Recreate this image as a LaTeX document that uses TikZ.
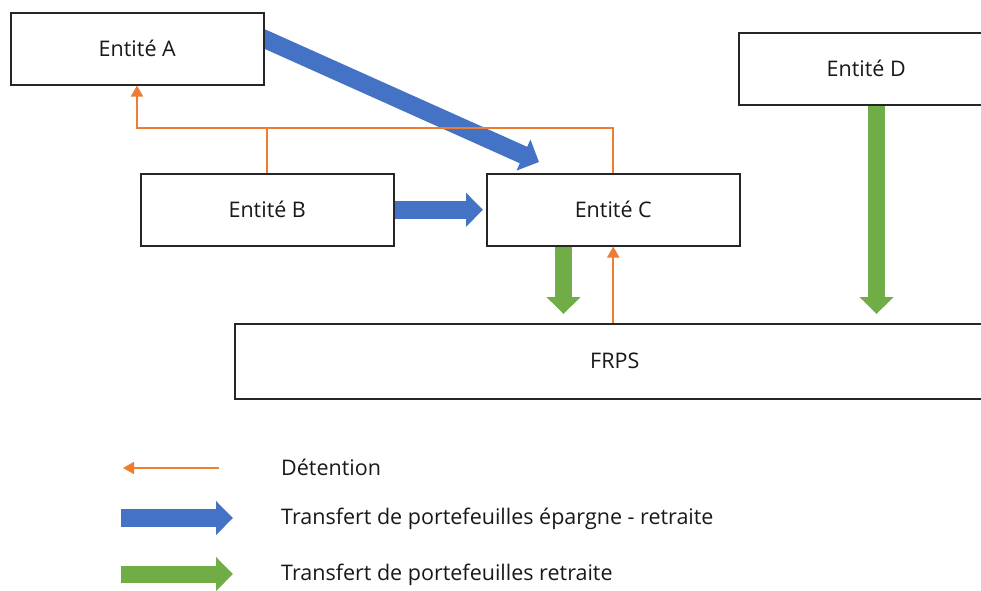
\documentclass[tikz,border=0pt]{standalone}
\usepackage{fontspec}
\setmainfont{Open Sans}
\usetikzlibrary{arrows.meta,calc,backgrounds}
\definecolor{flowblue}{HTML}{4472C4}
\definecolor{flowgreen}{HTML}{70AD47}
\definecolor{holdorange}{HTML}{ED7D31}
\definecolor{edge}{HTML}{262626}
\begin{document}
\begin{tikzpicture}[x=1pt,y=-1pt,
  entity/.style={draw=edge,line width=1.5pt,fill=white,anchor=north west,
    inner sep=0pt,font=\fontsize{21.5}{25}\selectfont,text=black!90},
  legendtext/.style={anchor=west,inner sep=0pt,font=\fontsize{21.5}{25}\selectfont,text=black!90},
  hold/.style={draw=holdorange,line width=1.7pt},
  holdtip/.style={hold,-{Triangle[width=12pt,length=11pt]}},
  blockblue/.style={draw=flowblue,line width=18pt,-{Triangle[width=33pt,length=17pt]}},
  blockgreen/.style={draw=flowgreen,line width=17pt,-{Triangle[width=33pt,length=17pt]}}]
\useasboundingbox (0,0) rectangle (981,590);

% entities
\node[entity,minimum width=253pt,minimum height=72pt] (A) at (10,12) {Entité A};
\node[entity,minimum width=253pt,minimum height=72pt] (B) at (140,173) {Entité B};
\node[entity,minimum width=253pt,minimum height=72pt] (C) at (486,173) {Entité C};
\node[entity,minimum width=255pt,minimum height=72pt] (D) at (738,32) {Entité D};
\node[entity,minimum width=760pt,minimum height=75pt] (F) at (234,323) {FRPS};

% holding lines
\coordinate (bar) at (0,128);
\coordinate (aIn) at ($(A.south west)+(127,0)$);
\draw[holdtip] (C.north) |- (aIn |- bar) -- (aIn);
\draw[hold] (B.north) -- (B.north |- bar);
\draw[holdtip] (C.south |- F.north) -- (C.south);

% portfolio transfers
\begin{scope}[on background layer]
  \draw[blockblue] ($(A.east)+(-6,-12.5)$) -- ($(C.north west)+(53,-11)$);
\end{scope}
\draw[blockblue] (B.east) -- ($(C.west)+(-3,0)$);
\draw[blockgreen] ($(C.south west)+(77.5,0)$) -- ($(C.south west |- F.north)+(77.5,-9)$);
\draw[blockgreen] ($(D.south west)+(138.5,0)$) -- ($(D.south west |- F.north)+(138.5,-9)$);

% legend
\coordinate (l1a) at (219,468); \coordinate (l1b) at (123,468);
\coordinate (l2a) at (121,518); \coordinate (l2b) at (233,518);
\coordinate (l3a) at (121,574); \coordinate (l3b) at (233,574);
\draw[holdtip] (l1a) -- (l1b);
\draw[blockblue] (l2a) -- (l2b);
\draw[blockgreen] (l3a) -- (l3b);
\node[legendtext] (t1) at (281,467) {Détention};
\node[legendtext] (t2) at (281,519) {Transfert de portefeuilles épargne - retraite};
\node[legendtext] (t3) at (281,575) {Transfert de portefeuilles retraite};
\end{tikzpicture}
\end{document}
